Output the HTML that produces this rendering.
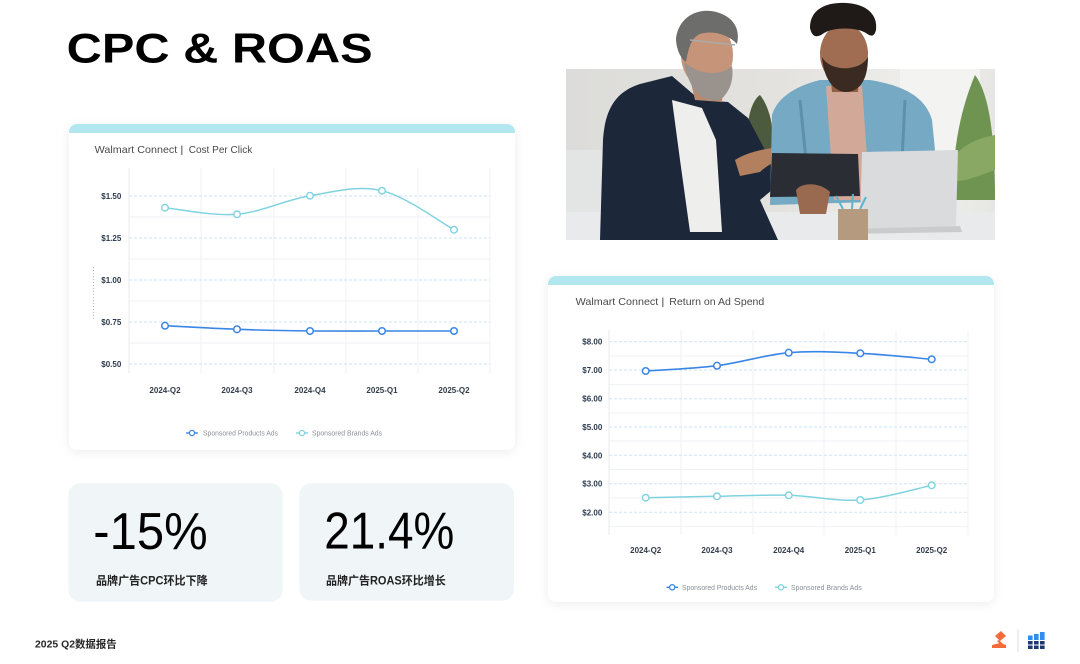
<!DOCTYPE html>
<html>
<head>
<meta charset="utf-8">
<style>
html,body{margin:0;padding:0;background:#fff;}
body{width:1080px;height:664px;overflow:hidden;}
svg{display:block;}
text{font-family:"Liberation Sans","Noto Sans CJK SC",sans-serif;}
</style>
</head>
<body>
<svg width="1080" height="664" viewBox="0 0 1080 664" xmlns="http://www.w3.org/2000/svg">
<defs>
  <filter id="sh" x="-10%" y="-10%" width="120%" height="125%">
    <feDropShadow dx="0" dy="2" stdDeviation="5" flood-color="#000" flood-opacity="0.07"/>
  </filter>
  <clipPath id="c1"><rect x="69" y="124" width="446" height="326" rx="8"/></clipPath>
  <clipPath id="c2"><rect x="548" y="276" width="446" height="326" rx="8"/></clipPath>
  <clipPath id="ph"><rect x="566" y="69" width="429" height="171"/></clipPath>
  <linearGradient id="wall" x1="0" y1="0" x2="1" y2="0">
    <stop offset="0" stop-color="#dcdcda"/>
    <stop offset="0.5" stop-color="#e3e2de"/>
    <stop offset="0.85" stop-color="#efefec"/>
    <stop offset="1" stop-color="#e6e6e2"/>
  </linearGradient>
</defs>

<!-- Title -->
<text x="66.7" y="62.7" font-size="42" font-weight="bold" fill="#000" textLength="306" lengthAdjust="spacingAndGlyphs">CPC &amp; ROAS</text>

<!-- Photo -->
<g>
  <g clip-path="url(#ph)">
    <rect x="566" y="69" width="429" height="171" fill="url(#wall)"/>
    <rect x="566" y="150" width="45" height="90" fill="#e3e4e4"/>
    <rect x="900" y="69" width="80" height="120" fill="#f3f3f1"/>
    <path d="M748 150 C745 120 752 100 760 95 C768 105 775 125 772 150 Z" fill="#4c5a3e"/>
    <path d="M955 200 C950 160 960 110 975 75 C990 95 995 140 995 200 Z" fill="#6f9451"/>
    <path d="M945 180 C950 150 970 140 995 135 L995 170 C980 175 960 185 945 180 Z" fill="#88a864"/>
    <rect x="566" y="212" width="429" height="28" fill="#e9eaeb"/>
  </g>
  <path d="M600 240 L603 140 C605 110 615 92 640 84 L672 76 L700 100 L728 102 L748 118 L765 150 L790 160 L795 178 L772 190 L760 200 L778 240 Z" fill="#1c2739"/>
  <path d="M672 100 L702 108 L716 140 L722 232 L690 232 L680 160 Z" fill="#eeeeec"/>
  <path d="M688 70 L725 72 L722 102 L695 100 Z" fill="#b98a70"/>
  <ellipse cx="707" cy="55" rx="26" ry="33" fill="#c69479"/>
  <path d="M684 62 C690 95 705 102 720 100 C730 92 734 80 732 66 C722 76 700 76 684 62 Z" fill="#9a928c"/>
  <path d="M676 38 C680 12 705 6 722 14 C736 20 740 32 737 44 C728 34 712 30 700 34 C690 38 688 52 686 62 C680 58 676 48 676 38 Z" fill="#6d6d6b"/>
  <path d="M690 40 L735 45" stroke="#aaa" stroke-width="1.5"/>
  <path d="M735 160 C750 150 780 145 798 148 L800 154 C785 158 770 162 760 172 L740 176 Z" fill="#b3805f"/>
  <path d="M770 205 L772 115 C778 95 800 85 820 80 L870 80 C900 85 925 95 932 120 L940 200 Z" fill="#76a9c3"/>
  <path d="M800 100 L810 200 M905 100 L900 200" stroke="#5f90ab" stroke-width="3"/>
  <path d="M826 86 L862 86 L870 200 L834 200 Z" fill="#d2a998"/>
  <path d="M830 70 L860 70 L858 92 L832 92 Z" fill="#8f5f46"/>
  <ellipse cx="844" cy="54" rx="24" ry="30" fill="#a06d52"/>
  <path d="M822 57 C824 82 836 92 846 92 C858 92 868 82 868 57 C860 72 830 72 822 57 Z" fill="#3a2a22"/>
  <path d="M810 28 C810 8 828 2 846 3 C866 4 878 14 876 30 C874 38 870 36 866 33 C856 27 834 27 824 33 C818 38 812 38 810 28 Z" fill="#1f1a17"/>
  <path d="M772 153 L858 154 L860 196 L770 197 Z" fill="#2a2d33"/>
  <path d="M796 190 C802 182 820 182 830 192 L826 214 L800 214 Z" fill="#9a6a50"/>
  <path d="M862 152 L958 150 L956 226 L860 229 Z" fill="#d9dbdd"/>
  <path d="M845 229 L960 226 L962 232 L845 234 Z" fill="#c9cbcd"/>
  <rect x="838" y="209" width="30" height="31" fill="#b59a80"/>
  <path d="M843 209 L836 196 M852 209 L853 194 M860 209 L866 197" stroke="#5fb4c9" stroke-width="2"/>
</g>

<!-- Chart 1 card -->
<g filter="url(#sh)">
  <rect x="69" y="124" width="446" height="326" rx="8" fill="#fff"/>
</g>
<rect x="69" y="124" width="446" height="9" fill="#b2e7ef" clip-path="url(#c1)"/>
<text x="94.7" y="153" font-size="10.5" fill="#4a4a4a" textLength="82.6" lengthAdjust="spacingAndGlyphs">Walmart Connect</text>
<text x="180.5" y="153" font-size="10.5" fill="#333">|</text>
<text x="188.7" y="153" font-size="10.5" fill="#4a4a4a" textLength="63.6" lengthAdjust="spacingAndGlyphs">Cost Per Click</text>

<g stroke="#f0f2f5" stroke-width="1">
  <line x1="201" y1="168" x2="201" y2="373"/>
  <line x1="274" y1="168" x2="274" y2="373"/>
  <line x1="346" y1="168" x2="346" y2="373"/>
  <line x1="418" y1="168" x2="418" y2="373"/>
  <line x1="490" y1="168" x2="490" y2="373"/>
  <line x1="129" y1="217" x2="490" y2="217"/>
  <line x1="129" y1="259" x2="490" y2="259"/>
  <line x1="129" y1="301" x2="490" y2="301"/>
  <line x1="129" y1="343" x2="490" y2="343"/>
</g>
<line x1="129" y1="168" x2="129" y2="373" stroke="#e6e9ec" stroke-width="1"/>
<g stroke="#cde3f4" stroke-width="1" stroke-dasharray="3,2">
  <line x1="129" y1="196" x2="490" y2="196"/>
  <line x1="129" y1="238" x2="490" y2="238"/>
  <line x1="129" y1="280" x2="490" y2="280"/>
  <line x1="129" y1="322" x2="490" y2="322"/>
  <line x1="129" y1="364" x2="490" y2="364"/>
</g>
<line x1="93.5" y1="267" x2="93.5" y2="320" stroke="#9aa3ad" stroke-width="0.8" stroke-dasharray="1,2"/>
<g font-size="8" font-weight="bold" fill="#2c3b4e" text-anchor="end">
  <text x="121.3" y="199">$1.50</text>
  <text x="121.3" y="241">$1.25</text>
  <text x="121.3" y="283">$1.00</text>
  <text x="121.3" y="325">$0.75</text>
  <text x="121.3" y="367">$0.50</text>
</g>
<g font-size="8" font-weight="bold" fill="#333d4a" text-anchor="middle">
  <text x="165" y="393">2024-Q2</text>
  <text x="237" y="393">2024-Q3</text>
  <text x="310" y="393">2024-Q4</text>
  <text x="382" y="393">2025-Q1</text>
  <text x="454" y="393">2025-Q2</text>
</g>
<path d="M165 207.7 C177 208.8 212.8 216.3 237 214.3 C261.2 212.3 285.8 199.6 310 195.7 C334.2 191.8 358 185 382 190.7 C406 196.4 442 223.2 454 229.7" fill="none" stroke="#7fd3df" stroke-width="1.5"/>
<path d="M165 325.7 C177 326.3 212.8 328.4 237 329.3 C261.2 330.2 285.8 330.7 310 331 C334.2 331.2 358 331 382 331 L454 331" fill="none" stroke="#3a86e6" stroke-width="1.6"/>
<g fill="#fff" stroke="#7fd3df" stroke-width="1.4">
  <circle cx="165" cy="207.7" r="3.3"/><circle cx="237" cy="214.3" r="3.3"/><circle cx="310" cy="195.7" r="3.3"/><circle cx="382" cy="190.7" r="3.3"/><circle cx="454" cy="229.7" r="3.3"/>
</g>
<g fill="#fff" stroke="#3a86e6" stroke-width="1.5">
  <circle cx="165" cy="325.7" r="3.3"/><circle cx="237" cy="329.3" r="3.3"/><circle cx="310" cy="331" r="3.3"/><circle cx="382" cy="331" r="3.3"/><circle cx="454" cy="331" r="3.3"/>
</g>
<line x1="186" y1="433" x2="198" y2="433" stroke="#3a86e6" stroke-width="1.4"/>
<circle cx="192" cy="433" r="2.6" fill="#fff" stroke="#3a86e6" stroke-width="1.3"/>
<text x="203" y="435.5" font-size="7" fill="#8a8f96" textLength="75" lengthAdjust="spacingAndGlyphs">Sponsored Products Ads</text>
<line x1="296" y1="433" x2="308" y2="433" stroke="#7fd3df" stroke-width="1.4"/>
<circle cx="302" cy="433" r="2.6" fill="#fff" stroke="#7fd3df" stroke-width="1.3"/>
<text x="312" y="435.5" font-size="7" fill="#8a8f96" textLength="70" lengthAdjust="spacingAndGlyphs">Sponsored Brands Ads</text>

<!-- Chart 2 card -->
<g filter="url(#sh)">
  <rect x="548" y="276" width="446" height="326" rx="8" fill="#fff"/>
</g>
<rect x="548" y="276" width="446" height="9" fill="#b2e7ef" clip-path="url(#c2)"/>
<text x="575.7" y="305" font-size="10.5" fill="#4a4a4a" textLength="82.6" lengthAdjust="spacingAndGlyphs">Walmart Connect</text>
<text x="661.5" y="305" font-size="10.5" fill="#333">|</text>
<text x="669.3" y="305" font-size="10.5" fill="#4a4a4a" textLength="95" lengthAdjust="spacingAndGlyphs">Return on Ad Spend</text>

<g stroke="#f0f2f5" stroke-width="1">
  <line x1="681" y1="330" x2="681" y2="535"/>
  <line x1="753" y1="330" x2="753" y2="535"/>
  <line x1="824" y1="330" x2="824" y2="535"/>
  <line x1="896" y1="330" x2="896" y2="535"/>
  <line x1="968" y1="330" x2="968" y2="535"/>
  <line x1="609" y1="356" x2="968" y2="356"/>
  <line x1="609" y1="384.5" x2="968" y2="384.5"/>
  <line x1="609" y1="413" x2="968" y2="413"/>
  <line x1="609" y1="441" x2="968" y2="441"/>
  <line x1="609" y1="469.5" x2="968" y2="469.5"/>
  <line x1="609" y1="498" x2="968" y2="498"/>
  <line x1="609" y1="526.5" x2="968" y2="526.5"/>
</g>
<line x1="609" y1="330" x2="609" y2="535" stroke="#e6e9ec" stroke-width="1"/>
<g stroke="#cde3f4" stroke-width="1" stroke-dasharray="3,2">
  <line x1="609" y1="341.7" x2="968" y2="341.7"/>
  <line x1="609" y1="370" x2="968" y2="370"/>
  <line x1="609" y1="398.7" x2="968" y2="398.7"/>
  <line x1="609" y1="427" x2="968" y2="427"/>
  <line x1="609" y1="455.3" x2="968" y2="455.3"/>
  <line x1="609" y1="483.7" x2="968" y2="483.7"/>
  <line x1="609" y1="512.3" x2="968" y2="512.3"/>
</g>
<g font-size="8" font-weight="bold" fill="#2c3b4e" text-anchor="end">
  <text x="602.3" y="344.7">$8.00</text>
  <text x="602.3" y="373">$7.00</text>
  <text x="602.3" y="401.7">$6.00</text>
  <text x="602.3" y="430">$5.00</text>
  <text x="602.3" y="458.3">$4.00</text>
  <text x="602.3" y="486.7">$3.00</text>
  <text x="602.3" y="515.3">$2.00</text>
</g>
<g font-size="8" font-weight="bold" fill="#333d4a" text-anchor="middle">
  <text x="645.7" y="553">2024-Q2</text>
  <text x="717" y="553">2024-Q3</text>
  <text x="788.7" y="553">2024-Q4</text>
  <text x="860.3" y="553">2025-Q1</text>
  <text x="931.7" y="553">2025-Q2</text>
</g>
<path d="M645.7 371 C657.6 370.1 693.2 368.75 717 365.7 C740.8 362.65 764.9 354.8 788.7 352.7 C812.5 350.6 836.5 352.2 860.3 353.3 C884.1 354.4 919.8 358.3 931.7 359.3" fill="none" stroke="#3a86e6" stroke-width="1.6"/>
<path d="M645.7 497.7 C657.6 497.47 693.2 496.7 717 496.3 C740.8 495.9 764.9 494.7 788.7 495.3 C812.5 495.9 836.5 501.7 860.3 500 C884.1 498.3 919.8 487.75 931.7 485.3" fill="none" stroke="#7fd3df" stroke-width="1.5"/>
<g fill="#fff" stroke="#3a86e6" stroke-width="1.5">
  <circle cx="645.7" cy="371" r="3.3"/><circle cx="717" cy="365.7" r="3.3"/><circle cx="788.7" cy="352.7" r="3.3"/><circle cx="860.3" cy="353.3" r="3.3"/><circle cx="931.7" cy="359.3" r="3.3"/>
</g>
<g fill="#fff" stroke="#7fd3df" stroke-width="1.4">
  <circle cx="645.7" cy="497.7" r="3.3"/><circle cx="717" cy="496.3" r="3.3"/><circle cx="788.7" cy="495.3" r="3.3"/><circle cx="860.3" cy="500" r="3.3"/><circle cx="931.7" cy="485.3" r="3.3"/>
</g>
<line x1="666.5" y1="587.3" x2="678" y2="587.3" stroke="#3a86e6" stroke-width="1.4"/>
<circle cx="672.2" cy="587.3" r="2.6" fill="#fff" stroke="#3a86e6" stroke-width="1.3"/>
<text x="682" y="589.8" font-size="7" fill="#8a8f96" textLength="75" lengthAdjust="spacingAndGlyphs">Sponsored Products Ads</text>
<line x1="775" y1="587.3" x2="787" y2="587.3" stroke="#7fd3df" stroke-width="1.4"/>
<circle cx="781" cy="587.3" r="2.6" fill="#fff" stroke="#7fd3df" stroke-width="1.3"/>
<text x="791" y="589.8" font-size="7" fill="#8a8f96" textLength="70.7" lengthAdjust="spacingAndGlyphs">Sponsored Brands Ads</text>

<!-- Stat cards -->
<rect x="68.3" y="483.3" width="214.4" height="118.4" rx="12" fill="#f0f5f8"/>
<rect x="299.3" y="483.3" width="214.7" height="117.5" rx="12" fill="#f0f5f8"/>
<text x="93.3" y="549" font-size="52" fill="#000" textLength="114.4" lengthAdjust="spacingAndGlyphs">-15%</text>
<text x="324.3" y="548.3" font-size="52" fill="#000" textLength="130" lengthAdjust="spacingAndGlyphs">21.4%</text>
<text x="96" y="584.5" font-size="11.5" font-weight="bold" fill="#222" textLength="111.7" lengthAdjust="spacingAndGlyphs">品牌广告CPC环比下降</text>
<text x="326" y="584.5" font-size="11.5" font-weight="bold" fill="#222" textLength="119.7" lengthAdjust="spacingAndGlyphs">品牌广告ROAS环比增长</text>

<!-- Footer -->
<text x="35" y="647.5" font-size="10.5" font-weight="bold" fill="#262626" textLength="81.7" lengthAdjust="spacingAndGlyphs">2025 Q2数据报告</text>

<!-- Logos -->
<g fill="#f26b3a">
  <path d="M995 636 L1001 631 L1006 636 L1000 641 Z"/>
  <path d="M999 640 L1003 644 L1001 645 L997 641 Z"/>
  <path d="M992 648 L992 645 L1000 643 L1006 645 L1006 648 Z"/>
</g>
<line x1="1018" y1="629" x2="1018" y2="652" stroke="#d8dde3" stroke-width="1"/>
<g fill="#2f8cf0">
  <rect x="1028" y="635.5" width="4.6" height="4.5"/>
  <rect x="1034" y="634" width="4.6" height="6"/>
  <rect x="1040" y="632" width="4.6" height="8"/>
</g>
<g fill="#1c3a6e">
  <rect x="1028" y="641" width="4.6" height="3.5"/>
  <rect x="1034" y="641" width="4.6" height="3.5"/>
  <rect x="1040" y="641" width="4.6" height="3.5"/>
  <rect x="1028" y="645.5" width="4.6" height="3.5"/>
  <rect x="1034" y="645.5" width="4.6" height="3.5"/>
  <rect x="1040" y="645.5" width="4.6" height="3.5"/>
</g>
</svg>
</body>
</html>
